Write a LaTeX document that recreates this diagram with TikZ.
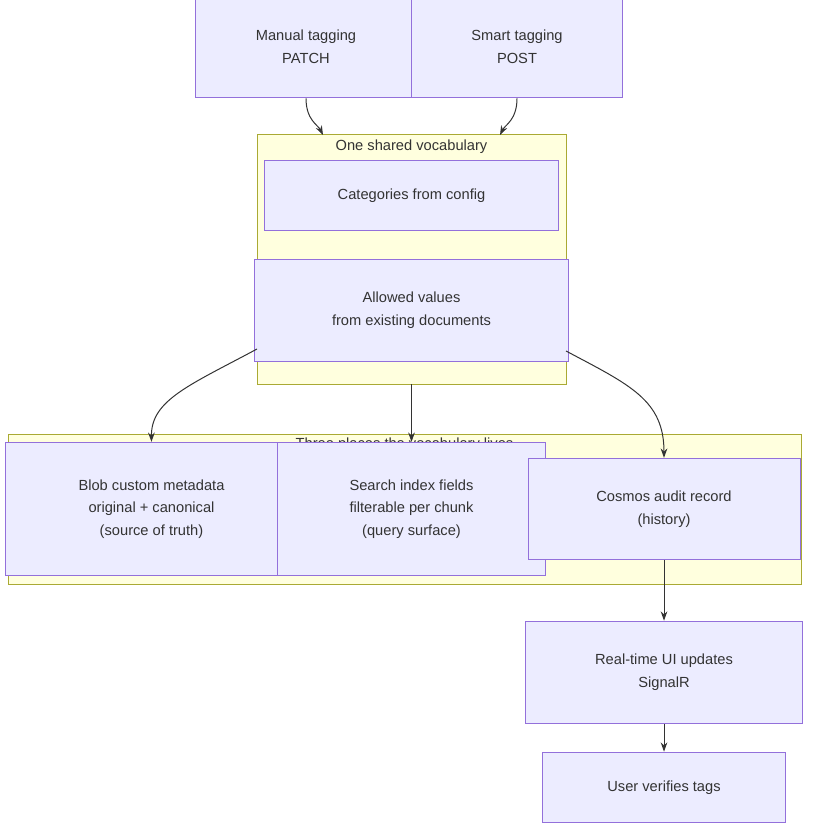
\documentclass[tikz,border=0pt]{standalone}
\usepackage{fontspec}
\setmainfont{Liberation Sans}
\usetikzlibrary{positioning,arrows.meta}
\definecolor{boxfill}{HTML}{ECECFF}
\definecolor{boxline}{HTML}{9370DB}
\definecolor{grpfill}{HTML}{FFFFDE}
\definecolor{grpline}{HTML}{AAAA33}
\definecolor{edge}{HTML}{333333}
\tikzset{
  box/.style={draw=boxline,fill=boxfill,line width=0.75pt,align=center,
              inner sep=0pt,font=\fontsize{11}{17}\selectfont,text=edge},
  grp/.style={draw=grpline,fill=grpfill,line width=0.75pt},
  grptitle/.style={font=\fontsize{11}{13}\selectfont,text=edge},
  link/.style={draw=edge,line width=0.75pt,-{Stealth[length=7pt,width=5pt]}}
}

\begin{document}
\begin{tikzpicture}[x=0.75pt,y=-0.75pt]
\useasboundingbox (0,0) rectangle (817,830);
% Groups
\draw[grp] (257,135) rectangle (566,384);
\node[grptitle] (titleA) at (411.5,147) {One shared vocabulary};
\draw[grp] (8,434) rectangle (801,584);
\node[grptitle] (titleB) at (404.5,445) {Three places the vocabulary lives};
% Group edge points
\coordinate (grpAtopl) at (323,135);
\coordinate (grpAtopr) at (500,135);
\coordinate (grpAleft) at (257,349);
\coordinate (grpAbot) at (411.5,384);
\coordinate (grpAright) at (566,351);
% Nodes
\node[box,minimum width=166,minimum height=77] (manual) at (306,46.5) {Manual tagging\\PATCH};
\node[box,minimum width=158,minimum height=77] (smart) at (517,46.5) {Smart tagging\\POST};
\node[box,minimum width=221,minimum height=53] (cats) at (411.5,195.5) {Categories from config};
\node[box,minimum width=235,minimum height=77] (allowed) at (411.5,310.5) {Allowed values\\from existing documents};
\node[box,minimum width=219,minimum height=100] (blob) at (151.5,509) {Blob custom metadata\\original + canonical\\(source of truth)};
\node[box,minimum width=201,minimum height=100] (search) at (411.5,509) {Search index fields\\filterable per chunk\\(query surface)};
\node[box,minimum width=204,minimum height=76] (cosmos) at (664,509) {Cosmos audit record\\(history)};
\node[box,minimum width=208,minimum height=77] (realtime) at (664,672.5) {Real-time UI updates\\SignalR};
\node[box,minimum width=182,minimum height=53] (verify) at (664,787.5) {User verifies tags};
% Connectors
\draw[link] (manual.south) .. controls (306,120) and (318,125) .. (grpAtopl);
\draw[link] (smart.south) .. controls (517,120) and (505,125) .. (grpAtopr);
\draw[link] (grpAleft) .. controls (190,385) and (151,400) .. (blob.north);
\draw[link] (grpAbot) -- (search.north);
\draw[link] (grpAright) .. controls (630,385) and (664,400) .. (cosmos.north);
\draw[link] (cosmos.south) -- (realtime.north);
\draw[link] (realtime.south) -- (verify.north);
\end{tikzpicture}
\end{document}
